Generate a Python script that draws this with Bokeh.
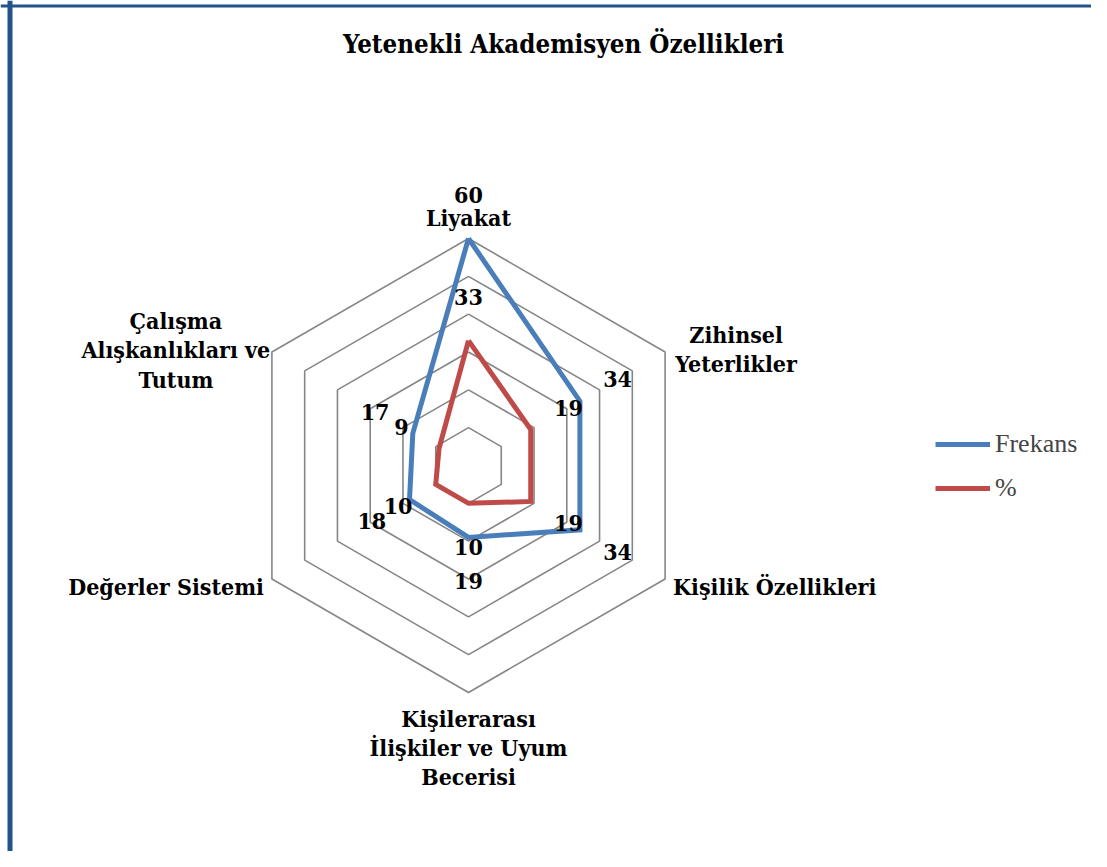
import math
from bokeh.plotting import figure
from bokeh.models import Range1d, Legend, LegendItem, ColumnDataSource
from bokeh.core.properties import value
from bokeh.embed import file_html
from bokeh.resources import INLINE

# ---- data ----
title = "Yetenekli Akademisyen Özellikleri"
categories = ["Liyakat", "Zihinsel\nYeterlikler", "Kişilik Özellikleri",
              "Kişilerarası\nİlişkiler ve Uyum\nBecerisi", "Değerler Sistemi",
              "Çalışma\nAlışkanlıkları ve\nTutum"]
frekans = [60, 34, 34, 19, 18, 17]
yuzde = [33, 19, 19, 10, 10, 9]
series_names = ["Frekans", "%"]
ring_values = [10, 20, 30, 40, 50, 60]

# ---- layout ----
W, H = 1091, 851
PX = 227 / 60.0
CX, CY = 468, 465
x0 = -CX / PX
x1 = (W - CX) / PX
y1 = CY / PX
y0 = y1 - H / PX

BOLD_FONT = "DejaVu Serif Condensed"
REG_FONT = "Liberation Serif"
BLUE = "#4a7ebb"
RED = "#be4b48"
GRID = "#868686"
BORDER = "#24528a"

p = figure(width=W, height=H, output_backend="svg", toolbar_location=None,
           x_range=Range1d(x0, x1), y_range=Range1d(y0, y1),
           min_border=0, outline_line_color=None)
p.axis.visible = False
p.grid.visible = False

n = len(categories)
angles = [math.pi / 2 - 2 * math.pi * i / n for i in range(n)]


def pts(vals):
    xs = [v * math.cos(a) for v, a in zip(vals, angles)]
    ys = [v * math.sin(a) for v, a in zip(vals, angles)]
    return xs + xs[:1], ys + ys[:1]

for rv in ring_values:
    xs, ys = pts([rv] * n)
    p.line(xs, ys, line_color=GRID, line_width=1.6)

xs, ys = pts(frekans)
r_f = p.line(xs, ys, line_color=BLUE, line_width=5, line_join="miter")
xs, ys = pts(yuzde)
r_p = p.line(xs, ys, line_color=RED, line_width=5, line_join="miter")

LOFF = 11.5
for vals in (frekans, yuzde):
    lx = [(v + LOFF) * math.cos(a) for v, a in zip(vals, angles)]
    ly = [(v + LOFF) * math.sin(a) for v, a in zip(vals, angles)]
    p.text(lx, ly, text=[str(v) for v in vals], text_align="center",
           text_baseline="middle", text_font=value(BOLD_FONT), text_font_style="bold",
           text_font_size="23px", text_color="black")

R = max(ring_values)
cat_x = [R * math.cos(a) for a in angles]
cat_y = [R * math.sin(a) for a in angles]
aligns = ["center", "center", "left", "center", "right", "center"]
baselines = ["bottom", "middle", "middle", "top", "middle", "middle"]
xoffs = [0, 71, 8, 0, -8, -96]
yoffs = [-8, -3, 7, 12, 7, -2]
src = ColumnDataSource(dict(x=cat_x, y=cat_y, t=categories, a=aligns, b=baselines,
                            xo=xoffs, yo=yoffs))
p.text("x", "y", text="t", source=src, text_align="a", text_baseline="b",
       x_offset="xo", y_offset="yo", text_font=value(BOLD_FONT), text_font_style="bold",
       text_font_size="23px", text_line_height=1.08, text_color="black")

p.text([0.0], [y1 - 43 / PX], text=[title], text_align="center", text_baseline="middle",
       text_font=value(BOLD_FONT), text_font_style="bold", text_font_size="25.7px",
       x_offset=[95], text_color="black")

p.line([x0 + 9.5 / PX, x0 + 9.5 / PX], [y0, y1], line_color=BORDER, line_width=5)
p.line([x0, x1], [y1 - 5.5 / PX, y1 - 5.5 / PX], line_color=BORDER, line_width=3)

legend = Legend(items=[LegendItem(label=series_names[0], renderers=[r_f]),
                       LegendItem(label=series_names[1], renderers=[r_p])],
                location=(935, 348), orientation="vertical",
                glyph_width=55, glyph_height=24, label_height=24, spacing=14,
                padding=0, margin=0, label_standoff=5,
                label_text_font=REG_FONT, label_text_font_size="26px",
                border_line_color=None, background_fill_alpha=0)
p.add_layout(legend, "center")

open("out.html", "w").write(file_html(p, INLINE))
